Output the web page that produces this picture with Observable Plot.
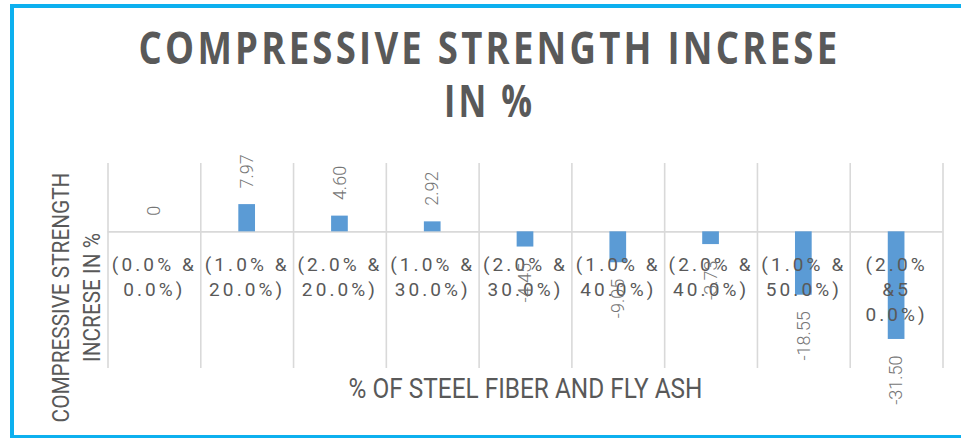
<!DOCTYPE html>
<html><head><meta charset="utf-8">
<script src="https://cdn.jsdelivr.net/npm/d3@7"></script>
<script src="https://cdn.jsdelivr.net/npm/@observablehq/plot@0.6"></script>
<style>
html,body{margin:0;padding:0;background:#fff;overflow:hidden;width:961px;height:438px}
#frame{position:absolute;left:10px;top:4px;width:1000px;height:435px;box-sizing:border-box;border:4px solid #0DB0EF;background:#fff}
#chart{position:absolute;left:0;top:0}
</style></head><body>
<div id="frame"></div>
<div id="chart"></div>
<script>
const categories = ["(0.0% & 0.0%)", "(1.0% & 20.0%)", "(2.0% & 20.0%)", "(1.0% & 30.0%)", "(2.0% & 30.0%)", "(1.0% & 40.0%)", "(2.0% & 40.0%)", "(1.0% & 50.0%)", "(2.0% & 50.0%)"];
const values = [0, 7.97, 4.60, 2.92, -4.45, -9.05, -3.73, -18.55, -31.50];
const valueLabels = ["0", "7.97", "4.60", "2.92", "-4.45", "-9.05", "-3.73", "-18.55", "-31.50"];
const tickLabels = ["(0.0% &\n0.0%)", "(1.0% &\n20.0%)", "(2.0% &\n20.0%)", "(1.0% &\n30.0%)", "(2.0% &\n30.0%)", "(1.0% &\n40.0%)", "(2.0% &\n40.0%)", "(1.0% &\n50.0%)", "(2.0%\n&5\n0.0%)"];
const titleLines = ["COMPRESSIVE STRENGTH INCRESE", "IN %"];
const yTitle = "COMPRESSIVE STRENGTH\nINCRESE IN %";
const xTitle = "% OF STEEL FIBER AND FLY ASH";
const yDomain = [-40, 20];

const data = categories.map((c, i) => ({i, category: c, value: values[i], label: valueLabels[i], tick: tickLabels[i]}));
const boundaries = d3.range(categories.length + 1);
const pos = data.filter(d => d.value >= 0);
const neg = data.filter(d => d.value < 0);

const TXT = "#595959";
const svg = Plot.plot({
  width: 961, height: 438,
  marginLeft: 107.5, marginRight: 18.5, marginTop: 163, marginBottom: 70,
  style: {background: "transparent", overflow: "visible"},
  x: {type: "linear", domain: [0, categories.length], axis: null},
  y: {domain: yDomain, axis: null},
  marks: [
    Plot.ruleX(boundaries, {x: d => d, stroke: "#d9d9d9", strokeWidth: 1.6}),
    Plot.ruleY([0], {stroke: "#d9d9d9", strokeWidth: 1.6}),
    Plot.rect(data, {x1: d => d.i + 0.41, x2: d => d.i + 0.59, y1: d => 0, y2: "value", fill: "#5B9BD5"}),
    Plot.text(data, {x: d => d.i + 0.5, y: d => 0, text: "tick", lineAnchor: "top", dy: 22, fontSize: 19, lineHeight: 1.3, fill: TXT, fontFamily: "Roboto", ariaDescription: "ticklabels"}),
    Plot.text(pos, {x: d => d.i + 0.5, y: "value", text: "label", rotate: -90, textAnchor: "start", lineAnchor: "middle", dy: -16, fontSize: 18, fill: "#767676", fontFamily: "Roboto", fontWeight: 300}),
    Plot.text(neg, {x: d => d.i + 0.5, y: "value", text: "label", rotate: -90, textAnchor: "end", lineAnchor: "middle", dy: 16, fontSize: 18, fill: "#767676", fontFamily: "Roboto", fontWeight: 300}),
    Plot.text([titleLines[0]], {frameAnchor: "top", textAnchor: "middle", lineAnchor: "middle", dx: -36, dy: -114, fontSize: 45, fontWeight: 700, fill: TXT, fontFamily: "Open Sans", ariaDescription: "title1"}),
    Plot.text([titleLines[1]], {frameAnchor: "top", textAnchor: "middle", lineAnchor: "middle", dx: -36, dy: -60.5, fontSize: 45, fontWeight: 700, fill: TXT, fontFamily: "Open Sans", ariaDescription: "title2"}),
    Plot.text([yTitle], {frameAnchor: "left", textAnchor: "middle", lineAnchor: "middle", rotate: -90, dx: -33.75, dy: 31.5, fontSize: 24, lineHeight: 1.29, fill: TXT, fontFamily: "Roboto", ariaDescription: "ytitle"}),
    Plot.text([xTitle], {frameAnchor: "bottom", textAnchor: "middle", lineAnchor: "middle", dy: 21.3, fontSize: 27, fill: TXT, fontFamily: "Roboto", ariaDescription: "xtitle"})
  ]
});
document.getElementById("chart").append(svg);

const groups = Array.from(svg.children).filter(n => n.tagName.toLowerCase() === "g");
const byIndex = {ticklabels: 3, title1: 6, title2: 7, ytitle: 8, xtitle: 9};
function groupOf(name) {
  return svg.querySelector(`g[aria-description="${name}"]`) || groups[byIndex[name]];
}
groupOf("ticklabels").style.setProperty("letter-spacing", "3.1px");
groupOf("title1").style.setProperty("letter-spacing", "4px");
groupOf("title2").style.setProperty("letter-spacing", "4px");

function fit(name, target) {
  groupOf(name).querySelectorAll("text").forEach(t => {
    const spans = t.querySelectorAll("tspan");
    const len = spans.length ? Math.max(...Array.from(spans, s => s.getComputedTextLength())) : t.getComputedTextLength();
    if (!len) return;
    const k = target / len;
    const tr = t.getAttribute("transform");
    if (tr) t.setAttribute("transform", tr + ` scale(${k},1)`);
    else {
      const x = +t.getAttribute("x") || 0, y = +t.getAttribute("y") || 0;
      t.setAttribute("transform", `translate(${x},${y}) scale(${k},1) translate(${-x},${-y})`);
    }
  });
}
fit("title1", 702);
fit("title2", 91);
fit("ytitle", 250);
fit("xtitle", 354);
</script>
</body></html>
